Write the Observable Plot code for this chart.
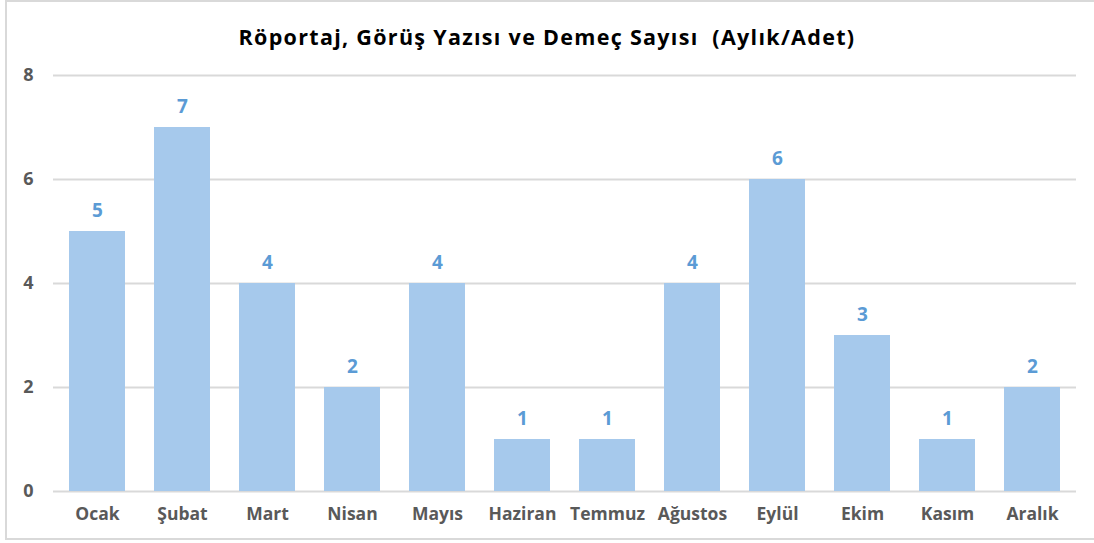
<!DOCTYPE html>
<html>
<head>
<meta charset="utf-8">
<script src="https://cdn.jsdelivr.net/npm/d3@7"></script>
<script src="https://cdn.jsdelivr.net/npm/@observablehq/plot@0.6"></script>
<style>
  html, body { margin: 0; padding: 0; background: #fff; }
  #wrap { position: relative; width: 1094px; height: 543px; overflow: hidden; font-family: "Open Sans", "Noto Sans", sans-serif; }
  #frame { position: absolute; left: 5px; top: 0px; width: 1100px; height: 540px; border: 2px solid #d9d9d9; box-sizing: border-box; }
  #title { position: absolute; left: 0; top: 0; width: 1094px; height: 55px; line-height: 74px; text-align: center; font-weight: 700; font-size: 21.5px; letter-spacing: 1.3px; color: #000; white-space: pre; }
  #chart { position: absolute; left: 0; top: 55px; }
</style>
</head>
<body>
<div id="wrap">
  <div id="frame"></div>
  <div id="title">Röportaj, Görüş Yazısı ve Demeç Sayısı  (Aylık/Adet)</div>
  <div id="chart"></div>
</div>
<script>
const months = ["Ocak", "Şubat", "Mart", "Nisan", "Mayıs", "Haziran", "Temmuz", "Ağustos", "Eylül", "Ekim", "Kasım", "Aralık"];
const counts = [5, 7, 4, 2, 4, 1, 1, 4, 6, 3, 1, 2];
const yTicks = [0, 2, 4, 6, 8];

const data = months.map((m, i) => ({month: m, value: counts[i]}));

const chart = Plot.plot({
  width: 1094,
  height: 488,
  marginTop: 20,
  marginBottom: 52,
  marginLeft: 53,
  marginRight: 18,
  style: {fontFamily: "'Open Sans', 'Noto Sans', sans-serif", background: "transparent"},
  x: {domain: months, paddingInner: 0.34, paddingOuter: 0.17, label: null},
  y: {domain: [0, 8], label: null},
  marks: [
    Plot.ruleY(yTicks, {stroke: "#d9d9d9", strokeWidth: 1.8}),
    Plot.barY(data, {x: "month", y: "value", fill: "#a6c9ec"}),
    Plot.text(data, {x: "month", y: "value", text: d => String(d.value), dy: -21, fill: "#5b9bd5", fontSize: 19, fontWeight: "bold"}),
    Plot.axisX({tickSize: 0, tickPadding: 16, fontSize: 17.5, fontWeight: "bold", color: "#595959", label: null}),
    Plot.axisY({ticks: yTicks, tickSize: 0, tickPadding: 20, fontSize: 18, fontWeight: "bold", color: "#595959", label: null})
  ]
});
document.getElementById("chart").appendChild(chart);
</script>
</body>
</html>
